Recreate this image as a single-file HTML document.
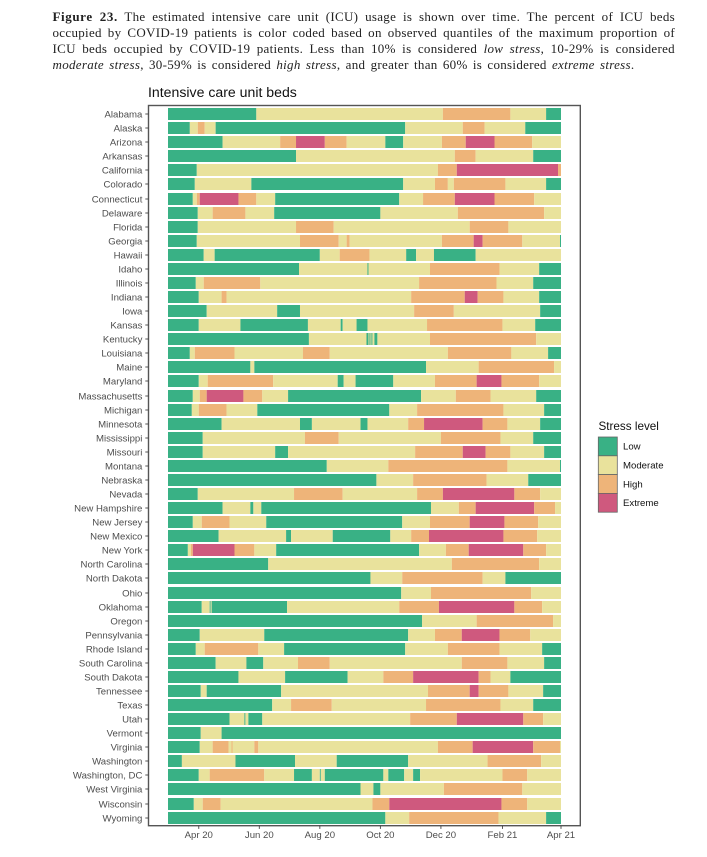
<!DOCTYPE html>
<html>
<head>
<meta charset="utf-8">
<style>
html,body{margin:0;padding:0;background:#fff;width:707px;height:857px;overflow:hidden}
.cap{position:absolute;left:52.5px;width:622.5px;height:16px;line-height:16px;font-family:"Liberation Serif",serif;font-size:13px;letter-spacing:0.3px;color:#222;text-align:justify;text-align-last:justify;white-space:nowrap}
.cap b{letter-spacing:0.6px}
svg{position:absolute;left:0;top:0}
text{font-family:"Liberation Sans",sans-serif}
</style>
</head>
<body>
<div>
<div class="cap" style="top:9px"><b>Figure 23.</b> The estimated intensive care unit (ICU) usage is shown over time. The percent of ICU beds</div>
<div class="cap" style="top:25px">occupied by COVID-19 patients is color coded based on observed quantiles of the maximum proportion of</div>
<div class="cap" style="top:41px">ICU beds occupied by COVID-19 patients. Less than 10% is considered <i>low stress</i>, 10-29% is considered</div>
<div class="cap" style="top:57px;width:582px"><i>moderate stress</i>, 30-59% is considered <i>high stress</i>, and greater than 60% is considered <i>extreme stress</i>.</div>
</div>
<svg id="chart" width="707" height="857" viewBox="0 0 707 857"></svg>
<script>
const states = ["Alabama","Alaska","Arizona","Arkansas","California","Colorado","Connecticut","Delaware","Florida","Georgia","Hawaii","Idaho","Illinois","Indiana","Iowa","Kansas","Kentucky","Louisiana","Maine","Maryland","Massachusetts","Michigan","Minnesota","Mississippi","Missouri","Montana","Nebraska","Nevada","New Hampshire","New Jersey","New Mexico","New York","North Carolina","North Dakota","Ohio","Oklahoma","Oregon","Pennsylvania","Rhode Island","South Carolina","South Dakota","Tennessee","Texas","Utah","Vermont","Virginia","Washington","Washington, DC","West Virginia","Wisconsin","Wyoming"];
const levelNames = ["Low","Moderate","High","Extreme"];
const levelColors = ["#39b185","#e9e29c","#eeb479","#cf597e"];
const tickLabels = ["Apr 20","Jun 20","Aug 20","Oct 20","Dec 20","Feb 21","Apr 21"];
// days since 1 Mar 2020
const tickDays = [31,92,153,214,275,337,396];
const domainDays = [0,396];
// stress level of each consecutive run, per state
const runLevels = [
[0,1,2,1,0],
[0,1,2,1,0,1,2,1,0],
[0,1,2,3,2,1,0,1,2,3,2,1],
[0,1,2,1,0],
[0,1,2,3,2],
[0,1,0,1,2,1,2,1,0],
[0,1,2,3,2,1,0,1,2,3,2,1],
[0,1,2,1,0,1,2,1],
[0,1,2,1,2,1],
[0,1,2,1,2,1,2,3,2,1,0],
[0,1,0,1,2,1,0,1,0,1],
[0,1,0,1,2,1,0],
[0,1,2,1,2,1,0],
[0,1,2,1,2,3,2,1,0],
[0,1,0,1,2,1,0],
[0,1,0,1,0,1,0,1,2,1,0],
[0,1,0,1,0,1,0,1,0,1,2,1],
[0,1,2,1,2,1,2,1,0],
[0,1,0,1,2,1],
[0,1,2,1,0,1,0,1,2,3,2,1],
[0,1,2,3,2,1,0,1,2,1,0],
[0,1,2,1,0,1,2,1,0],
[0,1,0,1,0,1,2,3,2,1,0],
[0,1,2,1,2,1,0],
[0,1,0,1,2,3,2,1,0],
[0,1,2,1,0],
[0,1,2,1,0],
[0,1,2,1,2,3,2,1],
[0,1,0,1,0,1,2,3,2,1],
[0,1,2,1,0,1,2,3,2,1],
[0,1,0,1,0,1,2,3,2,1],
[0,1,2,3,2,1,0,1,2,3,2,1],
[0,1,2,1],
[0,1,2,1,0],
[0,1,2,1],
[0,1,0,1,0,1,2,3,2,1],
[0,1,2,1],
[0,1,0,1,2,3,2,1],
[0,1,2,1,0,1,2,1,0],
[0,1,0,1,2,1,2,1,0],
[0,1,0,1,2,3,2,1,0],
[0,1,0,1,2,3,2,1,0],
[0,1,2,1,2,1,0],
[0,1,0,1,0,1,2,3,2,1],
[0,1,0],
[0,1,2,1,2,1,2,1,2,3,2,1],
[0,1,0,1,0,1,2,1],
[0,1,2,1,0,1,0,1,0,1,0,1,0,1,2,1],
[0,1,0,1,2,1],
[0,1,2,1,2,3,2,1],
[0,1,2,1,0]
];
// last day of each run, per state (days since 1 Mar 2020)
const runEnds = [
[89,277,345,381,396],
[22,30,37,48,239,297,319,360,396],
[55,113,129,158,180,219,237,276,300,329,367,396],
[129,289,310,368,396],
[29,272,291,393,396],
[27,84,237,269,282,288,340,381,396],
[25,29,32,71,89,108,233,257,289,329,369,396],
[30,45,78,107,214,292,379,396],
[30,129,167,304,343,396],
[29,133,172,180,183,276,308,317,357,395,396],
[36,47,153,173,203,240,250,268,310,396],
[132,201,202,264,334,374,396],
[28,36,93,253,331,368,396],
[31,54,59,245,299,312,338,374,396],
[39,110,133,248,288,375,396],
[31,73,141,174,176,190,201,261,337,370,396],
[142,200,202,203,204,205,206,208,211,264,371,396],
[22,27,67,136,163,282,346,383,396],
[83,87,260,313,389,396],
[31,40,106,171,177,189,227,269,311,336,374,396],
[25,32,39,76,95,121,255,290,325,371,396],
[24,31,59,90,223,251,338,379,396],
[54,133,145,194,201,242,258,317,342,375,396],
[35,138,172,275,335,368,396],
[35,108,121,249,297,320,345,379,396],
[160,222,342,395,396],
[210,247,321,363,396],
[30,127,176,251,277,349,375,396],
[55,83,86,94,265,293,310,369,390,396],
[25,34,62,99,236,264,304,339,373,396],
[51,119,124,166,224,245,263,338,372,396],
[20,23,25,67,87,109,253,280,303,358,381,396],
[101,286,374,396],
[204,236,317,340,396],
[235,265,366,396],
[34,42,43,44,120,233,273,349,377,396],
[256,311,388,396],
[32,97,242,269,296,334,365,396],
[28,37,91,117,239,282,334,377,396],
[48,79,96,131,163,296,342,379,396],
[71,118,181,217,247,313,325,345,396],
[33,39,114,262,304,313,343,378,396],
[105,124,165,260,335,368,396],
[62,77,78,81,95,244,291,358,378,396],
[33,54,396],
[32,45,61,64,65,87,91,272,307,368,395,396],
[14,68,128,170,242,322,376,396],
[31,42,97,127,145,153,154,158,217,222,238,247,254,337,362,396],
[194,207,214,278,357,396],
[26,35,53,206,223,336,362,396],
[219,243,333,381,396]
];

const NS = "http://www.w3.org/2000/svg";
const svg = document.getElementById("chart");
const panel = {left:148.5, right:580.3, top:105.5, bottom:825.7};
const rangeX = [168, 561];
const rowStart = 108.12, rowStep = 14.07, barH = 12;

function xScale(day){
  return rangeX[0] + (day - domainDays[0]) * (rangeX[1] - rangeX[0]) / (domainDays[1] - domainDays[0]);
}
function yScale(i){
  return Math.round(rowStart + i * rowStep);
}
function make(tag, attrs, parent){
  const el = document.createElementNS(NS, tag);
  for (const k in attrs) el.setAttribute(k, attrs[k]);
  (parent || svg).appendChild(el);
  return el;
}

// title
const title = make("text", {x:148, y:97, "font-size":14.1, fill:"#111"});


title.textContent = "Intensive care unit beds";

// bars
const barsGroup = make("g", {});


states.forEach(function(name, i){
  const row = make("g", {}, barsGroup);
  
  
  let start = domainDays[0];
  runEnds[i].forEach(function(end, j){
    const seg = make("rect", {
      x: xScale(start),
      y: yScale(i),
      width: xScale(end) - xScale(start),
      height: barH,
      fill: levelColors[runLevels[i][j]]
    }, row);
    
    
    start = end;
  });
});

// panel border
const border = make("rect", {
  x: panel.left, y: panel.top,
  width: panel.right - panel.left, height: panel.bottom - panel.top,
  fill: "none", stroke: "#555", "stroke-width": 1.4
});



// y axis
const yAxis = make("g", {});


states.forEach(function(name, i){
  const cy = yScale(i) + barH / 2;
  const tick = make("line", {x1:145.3, x2:panel.left, y1:cy, y2:cy, stroke:"#444", "stroke-width":0.9}, yAxis);
  
  
  const lab = make("text", {x:142.4, y:cy + 3.5, "font-size":9.6, fill:"#4d4d4d", "text-anchor":"end"}, yAxis);
  
  
  lab.textContent = name;
});

// x axis
const xAxis = make("g", {});


tickDays.forEach(function(day, i){
  const tx = xScale(day);
  const tick = make("line", {x1:tx, x2:tx, y1:panel.bottom, y2:panel.bottom + 3.2, stroke:"#444", "stroke-width":0.9}, xAxis);
  
  
  const lab = make("text", {x:tx, y:838, "font-size":9.6, fill:"#4d4d4d", "text-anchor":"middle"}, xAxis);
  
  
  lab.textContent = tickLabels[i];
});

// legend
const legend = make("g", {});


const legendTitle = make("text", {x:598.5, y:430, "font-size":11.7, fill:"#111"}, legend);


legendTitle.textContent = "Stress level";
levelNames.forEach(function(name, i){
  const ky = 437 + i * 18.8;
  const key = make("rect", {x:598.3, y:ky, width:19, height:18.8, fill:levelColors[i], stroke:"#666", "stroke-width":0.8}, legend);
  
  
  const lab = make("text", {x:623, y:ky + 12.7, "font-size":9.6, fill:"#111"}, legend);
  
  
  lab.textContent = name;
});
</script>
</body>
</html>
